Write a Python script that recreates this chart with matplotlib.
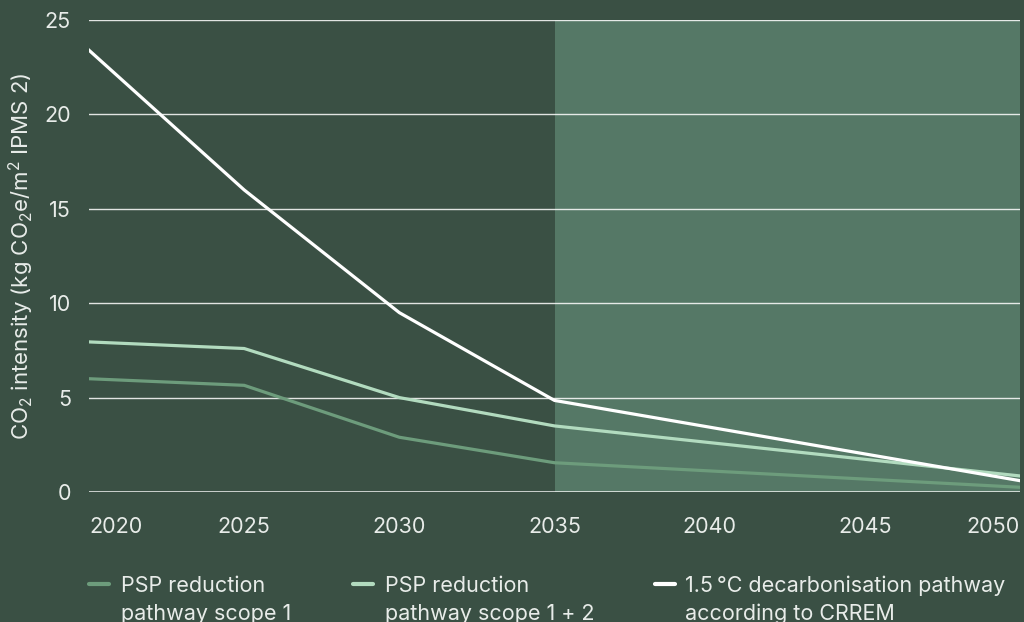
import matplotlib
matplotlib.use("Agg")
import matplotlib.pyplot as plt
from matplotlib.lines import Line2D

# Pathway data (kg CO2e/m2 IPMS 2)
years = [2020, 2025, 2030, 2035, 2050]
scope1 = [6.0, 5.65, 2.9, 1.55, 0.25]
scope12 = [7.95, 7.6, 5.0, 3.5, 0.85]
crrem = [23.4, 16.0, 9.5, 4.85, 0.6]

x_ticks = [2020, 2025, 2030, 2035, 2040, 2045, 2050]
y_ticks = [0, 5, 10, 15, 20, 25]
forecast_start = 2035

labels = [("PSP reduction", "pathway scope 1"),
          ("PSP reduction", "pathway scope 1 + 2"),
          ("1.5\u2009°C decarbonisation pathway", "according to CRREM")]

BG = "#3a5044"
SHADE = "#557866"
C_S1 = "#6d9c7c"
C_S12 = "#b2dbbf"
C_CRREM = "#ffffff"
TXT = "#e8ece9"

plt.rcParams["font.family"] = ["Inter", "DejaVu Sans"]
plt.rcParams["mathtext.fontset"] = "custom"
plt.rcParams["mathtext.rm"] = "Inter"
plt.rcParams["mathtext.it"] = "Inter"
plt.rcParams["mathtext.bf"] = "Inter"

W, H = 1024, 622
fig = plt.figure(figsize=(W / 100, H / 100), dpi=100, facecolor=BG)
ax = fig.add_axes([89 / W, 1 - 492 / H, (1020 - 89) / W, (492 - 20) / H])
ax.set_facecolor(BG)

ax.set_xlim(2020, 2050)
ax.set_ylim(0, 25)

ax.axvspan(forecast_start, 2050, color=SHADE, zorder=0, lw=0)

for yv in y_ticks:
    ax.axhline(yv, color="white", lw=1.8 if yv == 0 else 1.0,
               alpha=0.95 if yv == 0 else 0.85, zorder=1)

lw = 2.3
ax.plot(years, scope1, color=C_S1, lw=lw, zorder=3, solid_joinstyle="miter")
ax.plot(years, scope12, color=C_S12, lw=lw, zorder=4, solid_joinstyle="miter")
ax.plot(years, crrem, color=C_CRREM, lw=lw, zorder=5, solid_joinstyle="miter")

for s in ax.spines.values():
    s.set_visible(False)

ax.set_xticks(x_ticks)
ax.set_xticklabels([str(t) for t in x_ticks])
ax.set_yticks(y_ticks)
ax.tick_params(axis="both", length=0, colors=TXT, labelsize=15.5)
ax.tick_params(axis="x", pad=18)
ax.tick_params(axis="y", pad=13)
xt = ax.get_xticklabels()
xt[0].set_ha("left")
xt[-1].set_ha("right")

ax.set_ylabel(r"CO$_2$ intensity (kg CO$_2$e/m$^2$ IPMS 2)", color=TXT,
              fontsize=16)
ax.yaxis.set_label_coords(-53 / (1020 - 89), 0.5)

# Legend drawn along the bottom edge
handle_y = 1 - 584 / H
entries = [(89, 109, 121, C_S1), (353, 373, 385, C_S12), (655, 675, 685, C_CRREM)]
for (x0, x1, tx, col), (line1, line2) in zip(entries, labels):
    fig.add_artist(Line2D([x0 / W, x1 / W], [handle_y, handle_y],
                          transform=fig.transFigure, color=col, lw=3,
                          solid_capstyle="round"))
    fig.text(tx / W, 1 - 591.5 / H, line1, color=TXT, fontsize=15.5,
             ha="left", va="baseline")
    fig.text(tx / W, 1 - 619.5 / H, line2, color=TXT, fontsize=15.5,
             ha="left", va="baseline")

fig.savefig("out.png", dpi=100, facecolor=BG)
